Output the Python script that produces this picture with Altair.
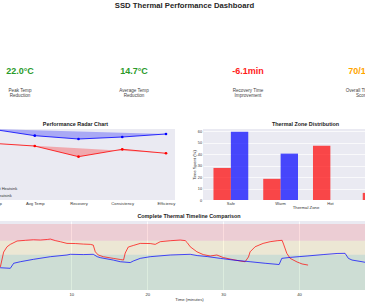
import json
import altair as alt
import pandas as pd

FONT = "Liberation Sans"
PANEL_BG = "#EAEAF2"

# ---------------- data ----------------
dashboard_title = ["SSD Thermal Performance Dashboard"]

kpi_values = ["22.0°C", "14.7°C", "-6.1min", "70/100"]
kpi_labels = ["Peak Temp\nReduction", "Average Temp\nReduction",
              "Recovery Time\nImprovement", "Overall Thermal\nScore"]
kpi_colors = ["#2A9A2A", "#2A9A2A", "#FF1A1A", "#FFA500"]

series = ["Without Heatsink", "With Heatsink"]
series_colors = ["#FF0000", "#0000FF"]

radar_metrics = ["Peak Temp", "Avg Temp", "Recovery", "Consistency", "Efficiency"]
radar_without = [80.0, 76.0, 61.0, 71.4, 65.8]
radar_with = [100.0, 90.6, 85.9, 88.7, 93.0]

zones = ["Safe", "Warm", "Hot", "Critical"]
zone_time_without = [28.0, 18.5, 47.3, 6.2]
zone_time_with = [59.5, 40.5, 0.0, 0.0]

time_without = [0, 0.66, 1.09, 1.54, 1.97, 2.86, 3.95, 5.0, 5.92, 6.84, 7.24, 7.89,
                8.55, 9.43, 10.53, 11.58, 12.5, 12.89, 13.16, 13.55, 14.21, 15.53,
                16.45, 16.88, 17.1, 17.5, 18.16, 19.08, 20.39, 21.05, 21.71, 23.03,
                24.34, 25.0, 25.26, 25.66, 26.54, 27.37, 28.29, 29.17, 30.0, 30.92,
                32.24, 32.89, 33.33, 33.55, 34.21, 35.26, 36.18, 37.11, 37.76, 37.95,
                38.38, 38.82, 39.74, 40.39, 41.18]
temp_without = [60.5, 61.4, 71.9, 75.7, 77.4, 79.8, 80.3, 80.7, 80.5, 80.9, 81.2, 80.1,
                79.3, 78.1, 78.0, 77.6, 77.4, 76.9, 72.1, 69.8, 68.6, 67.4,
                66.6, 66.2, 71.2, 75.5, 76.6, 78.1, 78.0, 77.4, 79.3, 80.0,
                80.5, 80.1, 78.7, 75.7, 72.1, 70.1, 69.1, 69.8, 68.0, 66.9,
                65.5, 65.0, 68.4, 72.1, 75.7, 78.1, 79.3, 80.0, 80.3, 77.6,
                71.0, 67.4, 64.8, 63.4, 62.6]
time_with = [0, 0.66, 1.97, 2.41, 3.29, 5.0, 7.24, 9.43, 9.87, 11.58, 12.89, 13.42,
             13.82, 15.53, 16.45, 17.76, 18.16, 19.08, 20.39, 23.03, 25.66, 26.58,
             27.89, 29.61, 31.32, 33.55, 35.53, 37.37, 37.72, 38.82, 41.05, 43.16,
             45.0, 46.05, 46.49, 46.97, 48.29, 49.34, 51.05]
temp_with = [60.5, 60.7, 60.3, 63.9, 65.0, 66.7, 68.6, 69.8, 70.3, 70.1, 70.3, 68.6,
             67.9, 66.2, 65.0, 64.4, 65.5, 67.4, 68.6, 69.8, 70.3, 69.4,
             68.7, 67.4, 66.2, 65.0, 63.9, 63.0, 67.4, 68.1, 69.1, 70.1,
             70.9, 71.0, 67.4, 66.2, 65.0, 63.9, 63.0]

zone_names = ["Critical Zone", "Warning Zone", "Safe Zone"]
zone_low = [80, 70, 40]
zone_high = [92, 80, 70]
zone_colors = ["red", "gold", "green"]

# ---------------- tables ----------------
kpi_df = pd.DataFrame({"idx": range(len(kpi_values)), "value": kpi_values,
                       "label": kpi_labels, "color": kpi_colors})
title_df = pd.DataFrame({"title": dashboard_title})

radar_rows = []
for name, vals in zip(series, [radar_without, radar_with]):
    n = len(vals) - 1
    for i, v in enumerate(vals):
        chord = vals[0] + (vals[-1] - vals[0]) * i / n  # closing edge of polygon
        radar_rows.append({"series": name, "idx": i, "score": v, "chord": chord})
radar_df = pd.DataFrame(radar_rows)

bar_rows = []
for name, vals in zip(series, [zone_time_without, zone_time_with]):
    for z, v in zip(zones, vals):
        bar_rows.append({"series": name, "zone": z, "pct": v})
bar_df = pd.DataFrame(bar_rows)

line_rows = []
for name, ts, vs in zip(series, [time_without, time_with], [temp_without, temp_with]):
    for t, v in zip(ts, vs):
        line_rows.append({"series": name, "t": t, "temp": v})
line_df = pd.DataFrame(line_rows)

zone_df = pd.DataFrame({"zone": zone_names, "low": zone_low, "high": zone_high})

bg = alt.ViewBackground(fill=PANEL_BG, stroke=None)
color_scale = alt.Scale(domain=series, range=series_colors)

# ---------------- KPI row ----------------
KPI_W, KPI_H = 426, 110
kx = alt.X("idx:Q", scale=alt.Scale(domain=[-0.386, 3.351], nice=False, zero=False), axis=None)
kpi_vals = alt.Chart(kpi_df).mark_text(
    font=FONT, fontSize=9, fontWeight="bold", baseline="middle", dy=16
).encode(x=kx, text="value:N", color=alt.Color("color:N", scale=None))
kpi_labs = alt.Chart(kpi_df).mark_text(
    font=FONT, fontSize=4.6, baseline="top", lineBreak="\n", lineHeight=5.2,
    dy=32.6, color="#444444"
).encode(x=kx, text="label:N")
kpi_title = alt.Chart(title_df).mark_text(
    font=FONT, fontSize=7.7, fontWeight="bold", baseline="middle",
    dy=5.8 - KPI_H / 2, dx=-4.5, color="#262626"
).encode(text="title:N")
kpi = alt.layer(kpi_title, kpi_vals, kpi_labs).properties(width=KPI_W, height=KPI_H)

# ---------------- radar ----------------
label_expr = json.dumps(radar_metrics) + "[datum.value]"
rx = alt.X("idx:Q", scale=alt.Scale(domain=[-0.343, 4.206], nice=False, zero=False),
           axis=alt.Axis(values=list(range(len(radar_metrics))), labelExpr=label_expr,
                         title=None, grid=False, labelPadding=1.2, labelFontSize=4.2,
                         labelColor="#333333"))
ry = alt.Y("score:Q", scale=alt.Scale(domain=[0, 100], nice=False), axis=None)
rcolor = alt.Color("series:N", scale=color_scale,
                   legend=alt.Legend(orient="none", legendX=1, legendY=55, title=None,
                                     symbolType="stroke", symbolSize=30, symbolStrokeWidth=1,
                                     labelFontSize=4, labelOffset=2, rowPadding=1.5,
                                     padding=1, labelColor="#333333"))
r_area = alt.Chart(radar_df).mark_area(opacity=0.28, clip=True).encode(
    x=rx, y=ry, y2="chord:Q", color=rcolor)
r_line = alt.Chart(radar_df).mark_line(strokeWidth=1, opacity=0.8, clip=True).encode(
    x=rx, y=ry, color=rcolor)
r_pts = alt.Chart(radar_df).mark_circle(size=7, opacity=1, clip=True).encode(
    x=rx, y=ry, color=rcolor)
radar = alt.layer(r_area, r_line, r_pts).properties(
    width=199, height=71, view=bg,
    title=alt.TitleParams("Performance Radar Chart", font=FONT, fontSize=5.4,
                          fontWeight="bold", color="#222222", offset=2))

# ---------------- bar chart ----------------
bars = alt.Chart(bar_df).mark_bar(opacity=0.7).encode(
    x=alt.X("zone:N", sort=zones, scale=alt.Scale(paddingInner=0, paddingOuter=0.06),
            axis=alt.Axis(title="Thermal Zone", labelAngle=0, labelPadding=1.2,
                          titlePadding=0.5, labelFontSize=4.0, titleFontSize=4.3,
                          labelColor="#333333")),
    xOffset=alt.XOffset("series:N", sort=series,
                        scale=alt.Scale(paddingInner=0, paddingOuter=0.43)),
    y=alt.Y("pct:Q", scale=alt.Scale(domain=[0, 62], nice=False),
            axis=alt.Axis(values=[0, 10, 20, 30, 40, 50, 60], title="Time Spent (%)",
                          grid=True, gridColor="white", gridWidth=0.7,
                          labelPadding=1.5, titlePadding=1, labelFontSize=3.8,
                          titleFontSize=4.3, labelColor="#333333")),
    color=alt.Color("series:N", scale=color_scale,
                    legend=alt.Legend(orient="none", legendX=162, legendY=1.5, title=None,
                                      symbolType="square", symbolSize=14, labelFontSize=4,
                                      labelOffset=2, rowPadding=1, padding=1,
                                      labelColor="#333333")),
).properties(width=205, height=71, view=bg,
             title=alt.TitleParams("Thermal Zone Distribution", font=FONT, fontSize=5.4,
                                   fontWeight="bold", color="#222222", offset=2))

# ---------------- timeline ----------------
tx = alt.X("t:Q", scale=alt.Scale(domain=[-2.55, 53.55], nice=False, zero=False),
           axis=alt.Axis(values=[0, 10, 20, 30, 40, 50], title="Time (minutes)", grid=True,
                         gridColor="white", gridWidth=0.8, labelPadding=2.2,
                         titlePadding=1.2, labelFontSize=4.2, titleFontSize=4.3,
                         labelColor="#333333"))
temp_scale = alt.Scale(domain=[44.8, 94.1], nice=False, zero=False)
zone_layer = alt.Chart(zone_df).mark_rect(opacity=0.12, clip=True).encode(
    y=alt.Y("low:Q", scale=temp_scale, axis=None),
    y2="high:Q",
    fill=alt.Fill("zone:N", scale=alt.Scale(domain=zone_names, range=zone_colors),
                  legend=alt.Legend(orient="none", legendX=388, legendY=13.5, title=None,
                                    symbolType="square", symbolSize=14, labelFontSize=4,
                                    labelOffset=2, rowPadding=1.5, padding=1,
                                    symbolOpacity=0.25, labelColor="#333333")),
)
line_layer = alt.Chart(line_df).mark_line(strokeWidth=1, opacity=0.7, clip=True).encode(
    x=tx,
    y=alt.Y("temp:Q", scale=temp_scale, axis=None),
    color=alt.Color("series:N", scale=color_scale,
                    legend=alt.Legend(orient="none", legendX=388, legendY=1.5, title=None,
                                      symbolType="stroke", symbolSize=30,
                                      symbolStrokeWidth=1, labelFontSize=4, labelOffset=2,
                                      rowPadding=1, padding=1, labelColor="#333333")),
    detail="series:N",
)
timeline = alt.layer(zone_layer, line_layer).properties(
    width=426, height=69, view=bg,
    title=alt.TitleParams("Complete Thermal Timeline Comparison", font=FONT, fontSize=5.4,
                          fontWeight="bold", color="#222222", offset=2))

# ---------------- layout ----------------
# In a flush layout the nested row counts as zero height, so the gap below it
# includes the row's own 71 px plot height.
ROW_B_H = 71
row_b = alt.hconcat(radar, bars, spacing=28, bounds="flush").resolve_scale(
    color="independent").resolve_legend(color="independent")
lower = alt.vconcat(row_b, timeline, spacing=21 + ROW_B_H, bounds="flush").resolve_scale(
    color="independent", fill="independent").resolve_legend(
    color="independent", fill="independent")
chart = alt.vconcat(kpi, lower, spacing=19, bounds="flush").resolve_scale(
    color="independent", fill="independent").resolve_legend(
    color="independent", fill="independent").properties(
    padding={"left": -24, "top": 0, "right": -43, "bottom": 0},
    background="white",
).configure_view(stroke=None).configure_axis(
    labelFont=FONT, titleFont=FONT, domain=False, ticks=False,
    titleColor="#333333", titleFontWeight="normal"
).configure_legend(labelFont=FONT)

chart.save("out.html", embed_options={"renderer": "svg", "actions": False})
